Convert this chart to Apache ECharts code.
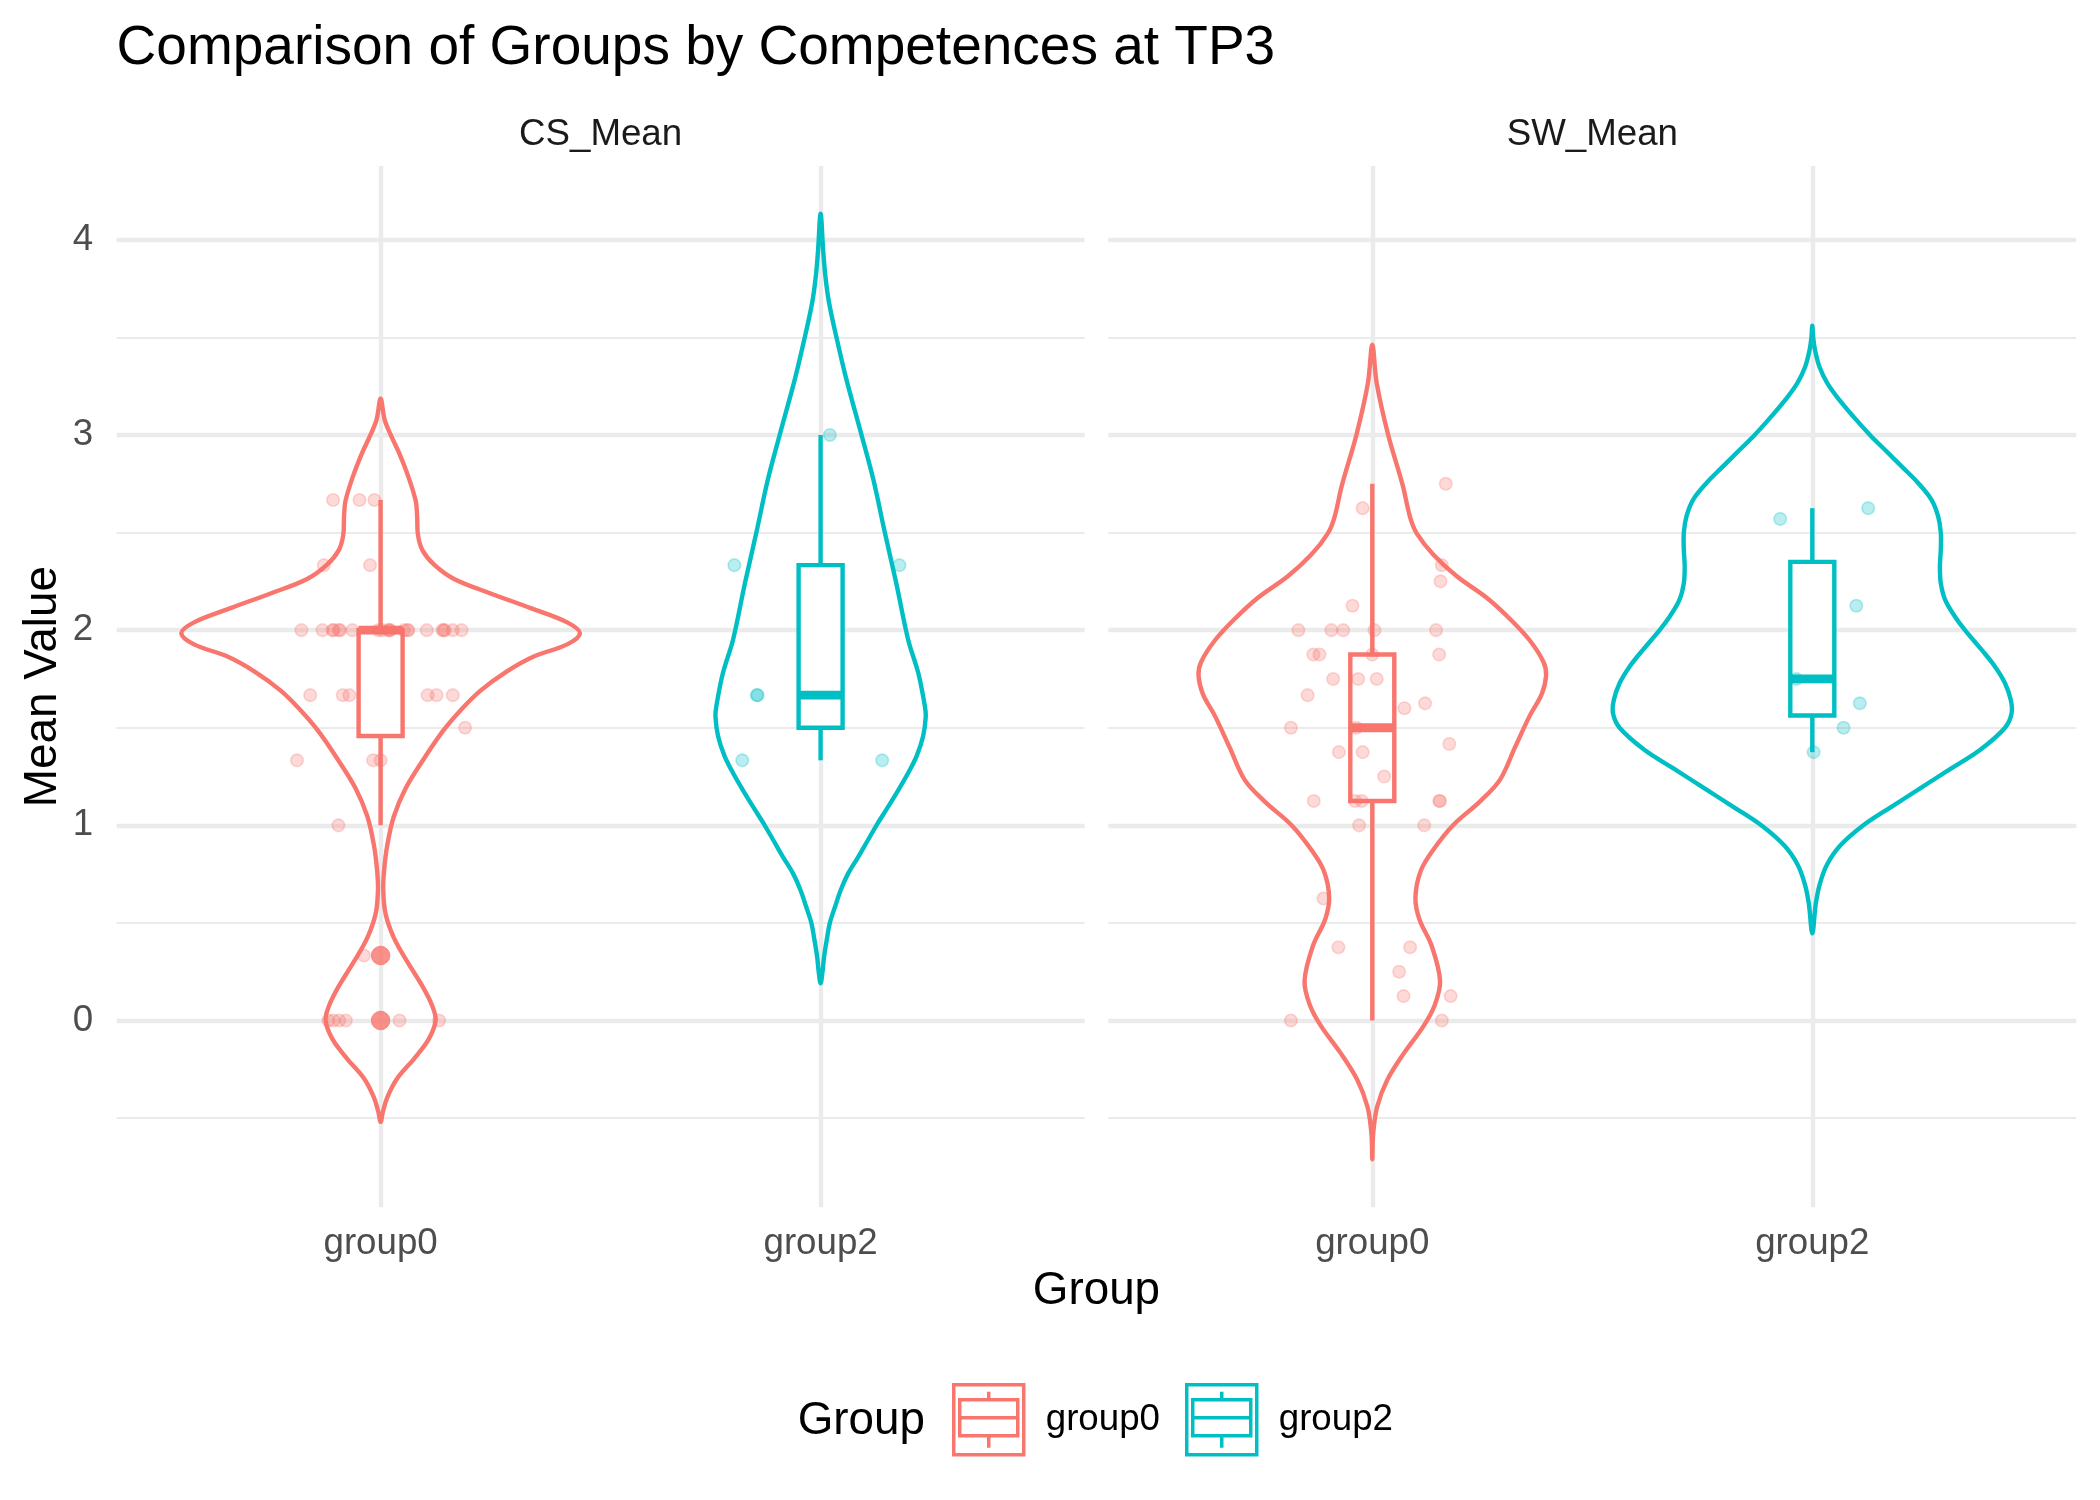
<!DOCTYPE html>
<html>
<head>
<meta charset="utf-8">
<script src="https://cdn.jsdelivr.net/npm/echarts@6/dist/echarts.min.js"></script>
<style>html,body{margin:0;padding:0;background:#fff}#c{width:2100px;height:1500px}</style>
</head>
<body>
<div id="c"></div>
<script>
const FONT = "'Liberation Sans', Arial, Helvetica, sans-serif";
const titleText = 'Comparison of Groups by Competences at TP3';
const panelNames = ['CS_Mean', 'SW_Mean'];
const groupNames = ['group0', 'group2'];
const groupColors = ['#F8766D', '#00BFC4'];
const pointColors = ['rgba(248,118,109,0.34)', 'rgba(0,191,196,0.34)'];
const yMajor = [0, 1, 2, 3, 4];
const yMinor = [-0.5, 0.5, 1.5, 2.5, 3.5];
const xPositions = [1, 2];

// ---- violin outlines (value levels, half-widths in group units) ----
const csG0ViolinY = [3.186,3.08,3.0,2.908,2.78,2.66,2.585,2.486,2.41,2.337,2.262,2.188,2.113,2.04,1.984,1.927,1.865,1.79,1.69,1.59,1.49,1.34,1.19,1.045,0.896,0.77,0.67,0.55,0.425,0.30,0.176,0.077,0.0,-0.097,-0.196,-0.296,-0.395,-0.47,-0.519];
const csG0ViolinW = [0,0.009,0.023,0.042,0.064,0.080,0.083,0.085,0.095,0.121,0.167,0.250,0.341,0.424,0.453,0.424,0.348,0.288,0.227,0.182,0.144,0.098,0.057,0.030,0.015,0.008,0.006,0.011,0.030,0.061,0.095,0.117,0.125,0.109,0.076,0.038,0.015,0.005,0];
const csG2ViolinY = [4.133,3.94,3.81,3.68,3.5,3.29,3.0,2.77,2.5,2.24,1.951,1.78,1.61,1.558,1.456,1.353,1.268,1.182,1.097,1.0,0.926,0.84,0.755,0.67,0.584,0.5,0.413,0.328,0.243,0.191];
const csG2ViolinW = [0,0.006,0.011,0.019,0.036,0.058,0.093,0.12,0.146,0.172,0.199,0.222,0.237,0.239,0.233,0.218,0.199,0.177,0.154,0.127,0.108,0.086,0.063,0.046,0.033,0.021,0.014,0.008,0.004,0];
const swG0ViolinY = [3.462,3.265,3.001,2.743,2.578,2.496,2.386,2.276,2.166,2.057,1.947,1.837,1.768,1.672,1.562,1.398,1.233,1.123,1.002,0.876,0.766,0.629,0.519,0.382,0.203,0.080,-0.030,-0.167,-0.305,-0.442,-0.579,-0.711];
const swG0ViolinW = [0,0.010,0.036,0.069,0.086,0.101,0.139,0.192,0.260,0.313,0.358,0.389,0.395,0.385,0.358,0.324,0.290,0.245,0.184,0.139,0.110,0.098,0.107,0.135,0.154,0.142,0.116,0.072,0.034,0.011,0.002,0];
const swG2ViolinY = [3.56,3.5,3.437,3.351,3.266,3.181,3.095,3.0,2.924,2.839,2.753,2.668,2.583,2.5,2.412,2.326,2.241,2.155,2.07,2.0,1.899,1.814,1.728,1.643,1.574,1.5,1.386,1.288,1.189,1.091,1.0,0.895,0.797,0.699,0.60,0.447];
const swG2ViolinW = [0,0.002,0.006,0.016,0.034,0.061,0.093,0.131,0.165,0.203,0.241,0.271,0.286,0.292,0.292,0.29,0.292,0.302,0.324,0.347,0.385,0.415,0.438,0.451,0.453,0.438,0.381,0.313,0.245,0.177,0.116,0.063,0.033,0.017,0.008,0];

// ---- boxplot stats [lower whisker, Q1, median, Q3, upper whisker] ----
const csG0Box = [1.0, 1.458, 2.0, 2.0, 2.667];
const csG2Box = [1.333, 1.5, 1.667, 2.333, 3.0];
const swG0Box = [0, 1.125, 1.5, 1.875, 2.75];
const swG2Box = [1.375, 1.5625, 1.75, 2.35, 2.625];
const csG0Outliers = [0.333, 0];

// ---- jittered observations (values and horizontal jitter in group units) ----
const csG0Values = [2.667,2.667,2.667,2.333,2.333,
  2.0,2.0,2.0,2.0,2.0,2.0,2.0,2.0,2.0,2.0,2.0,2.0,2.0,2.0,2.0,2.0,2.0,2.0,2.0,2.0,2.0,
  1.667,1.667,1.667,1.667,1.667,1.667,1.5,1.333,1.333,1.333,1.0,0.333,0,0,0,0,0,0];
const csG0Jitter = [-0.108,-0.048,-0.014,-0.129,-0.024,
  -0.18,-0.132,-0.109,-0.107,-0.095,-0.092,-0.064,-0.005,0.003,0.018,0.02,0.022,0.053,0.061,0.063,0.105,0.141,0.143,0.146,0.164,0.184,
  -0.16,-0.086,-0.071,0.107,0.127,0.164,0.192,-0.19,-0.017,0.0,-0.096,-0.038,-0.119,-0.107,-0.094,-0.079,0.043,0.133];
const csG2Values = [3.0,2.333,2.333,1.667,1.667,1.333,1.333];
const csG2Jitter = [0.021,-0.196,0.179,-0.145,-0.143,-0.178,0.14];
const swG0Values = [2.75,2.625,2.333,2.25,2.125,2.0,2.0,2.0,2.0,2.0,1.875,1.875,1.875,1.875,1.75,1.75,1.75,1.667,1.6,1.625,1.5,1.5,1.417,1.375,1.375,1.25,1.125,1.125,1.125,1.125,1.125,1.0,1.0,0.625,0.375,0.375,0.25,0.125,0.125,0,0];
const swG0Jitter = [0.167,-0.022,0.158,0.155,-0.045,-0.168,-0.093,-0.066,0.005,0.145,-0.134,-0.12,0.0,0.152,-0.089,-0.032,0.01,-0.147,0.073,0.12,-0.185,-0.036,0.175,-0.076,-0.022,0.027,-0.133,-0.039,-0.024,0.152,0.154,-0.03,0.118,-0.111,-0.077,0.086,0.061,0.071,0.178,-0.185,0.158];
const swG2Values = [2.57,2.625,2.125,1.75,1.625,1.5,1.375];
const swG2Jitter = [-0.073,0.127,0.1,-0.036,0.108,0.071,0.003];

// ---------------- layout / style ----------------
const GRID_TOP = 166, GRID_H = 1041.3, GRID_W = 968;
const gridLefts = [116.6, 1108.3];
const Y_MIN = -0.957, Y_MAX = 4.378;
const MAJOR_W = 4.4, MINOR_W = 2.2, GRID_COLOR = '#EBEBEB';
const LINE_W = 4.4;
const KEY_PATH = 'path://M0,0L70,0L70,70L0,70Z M6,15L64,15L64,51L6,51Z M6,33L64,33 M35,7L35,15 M35,51L35,63';

function gridSeries(p) {
  const data = [];
  yMajor.forEach(v => data.push({ yAxis: v, lineStyle: { width: MAJOR_W } }));
  yMinor.forEach(v => data.push({ yAxis: v, lineStyle: { width: MINOR_W } }));
  xPositions.forEach(v => data.push({ xAxis: v, lineStyle: { width: MAJOR_W } }));
  return {
    type: 'scatter', xAxisIndex: p, yAxisIndex: p, data: [], silent: true, z: 1,
    markLine: {
      silent: true, symbol: ['none', 'none'], label: { show: false }, z: 1,
      lineStyle: { color: GRID_COLOR, type: 'solid', width: MAJOR_W, opacity: 1 },
      emphasis: { disabled: true },
      data: data
    }
  };
}

function violinSeries(p, gi, ys, ws) {
  const g = xPositions[gi];
  return {
    type: 'custom', name: groupNames[gi], xAxisIndex: p, yAxisIndex: p, z: 2, silent: true, clip: false,
    data: [[g, ys[0]]],
    renderItem: function (params, api) {
      const pts = [];
      for (let i = 0; i < ys.length; i++) pts.push(api.coord([g + ws[i], ys[i]]));
      for (let i = ys.length - 2; i > 0; i--) pts.push(api.coord([g - ws[i], ys[i]]));
      return { type: 'polygon', shape: { points: pts, smooth: 0.35 },
        style: { fill: 'none', stroke: groupColors[gi], lineWidth: LINE_W, lineJoin: 'round' } };
    }
  };
}

function boxSeries(p, gi, st) {
  const g = xPositions[gi];
  const hw = 0.05;
  return {
    type: 'custom', name: groupNames[gi], xAxisIndex: p, yAxisIndex: p, z: 3, silent: true, clip: false,
    data: [[g, st[2]]],
    renderItem: function (params, api) {
      const c = groupColors[gi];
      const lo = api.coord([g, st[0]]), q1 = api.coord([g, st[1]]), md = api.coord([g, st[2]]);
      const q3 = api.coord([g, st[3]]), hi = api.coord([g, st[4]]);
      const xl = api.coord([g - hw, st[3]])[0], xr = api.coord([g + hw, st[3]])[0];
      return { type: 'group', children: [
        { type: 'line', shape: { x1: hi[0], y1: hi[1], x2: q3[0], y2: q3[1] }, style: { stroke: c, lineWidth: LINE_W } },
        { type: 'line', shape: { x1: lo[0], y1: lo[1], x2: q1[0], y2: q1[1] }, style: { stroke: c, lineWidth: LINE_W } },
        { type: 'rect', shape: { x: xl, y: q3[1], width: xr - xl, height: q1[1] - q3[1] }, style: { fill: '#ffffff', stroke: c, lineWidth: LINE_W } },
        { type: 'line', shape: { x1: xl, y1: md[1], x2: xr, y2: md[1] }, style: { stroke: c, lineWidth: LINE_W * 2 } }
      ] };
    }
  };
}

function pointSeries(p, gi, vals, jit) {
  return {
    type: 'scatter', name: groupNames[gi], xAxisIndex: p, yAxisIndex: p, z: 4, silent: true,
    symbol: 'circle', symbolSize: 12.5,
    itemStyle: { color: pointColors[gi], borderColor: pointColors[gi], borderWidth: 1.6 },
    data: vals.map((v, i) => [xPositions[gi] + jit[i], v])
  };
}

function outlierSeries(p, gi, vals) {
  return {
    type: 'scatter', name: groupNames[gi], xAxisIndex: p, yAxisIndex: p, z: 3, silent: true,
    symbol: 'circle', symbolSize: 18.5,
    itemStyle: { color: groupColors[gi], borderColor: groupColors[gi], borderWidth: 1 },
    data: vals.map(v => [xPositions[gi], v])
  };
}

const chart = echarts.init(document.getElementById('c'), null, { renderer: 'canvas', width: 2100, height: 1500 });

const grids = gridLefts.map(l => ({ left: l, top: GRID_TOP, width: GRID_W, height: GRID_H, containLabel: false, outerBoundsMode: 'none', show: false }));

const xAxes = [0, 1].map(p => ({
  type: 'value', gridIndex: p, min: 0.4, max: 2.6, interval: 0.2,
  axisLine: { show: false }, axisTick: { show: false }, splitLine: { show: false },
  axisLabel: {
    interval: 0, margin: 18, fontFamily: FONT, fontSize: 36.7, color: '#4D4D4D',
    formatter: function (v) {
      for (let i = 0; i < xPositions.length; i++) if (Math.abs(v - xPositions[i]) < 1e-6) return groupNames[i];
      return '';
    }
  }
}));

const yAxes = [0, 1].map(p => ({
  type: 'value', gridIndex: p, min: Y_MIN, max: Y_MAX,
  axisLine: { show: false }, axisTick: { show: false }, splitLine: { show: false },
  axisLabel: {
    show: p === 0, margin: 23.5, fontFamily: FONT, fontSize: 36.7, color: '#4D4D4D',
    customValues: yMajor,
    formatter: function (v) {
      const r = Math.round(v);
      return (Math.abs(v - r) < 1e-6 && yMajor.indexOf(r) >= 0) ? String(r) : '';
    }
  }
}));

const series = [
  gridSeries(0), gridSeries(1),
  violinSeries(0, 0, csG0ViolinY, csG0ViolinW),
  violinSeries(0, 1, csG2ViolinY, csG2ViolinW),
  violinSeries(1, 0, swG0ViolinY, swG0ViolinW),
  violinSeries(1, 1, swG2ViolinY, swG2ViolinW),
  boxSeries(0, 0, csG0Box), boxSeries(0, 1, csG2Box),
  boxSeries(1, 0, swG0Box), boxSeries(1, 1, swG2Box),
  outlierSeries(0, 0, csG0Outliers),
  pointSeries(0, 0, csG0Values, csG0Jitter),
  pointSeries(0, 1, csG2Values, csG2Jitter),
  pointSeries(1, 0, swG0Values, swG0Jitter),
  pointSeries(1, 1, swG2Values, swG2Jitter)
];

const panelCenters = gridLefts.map(l => l + GRID_W / 2);

chart.setOption({
  animation: false,
  backgroundColor: '#ffffff',
  grid: grids,
  xAxis: xAxes,
  yAxis: yAxes,
  legend: {
    left: 952, top: 1383, orient: 'horizontal', padding: 0,
    itemWidth: 70, itemHeight: 70, itemGap: 25, selectedMode: false,
    textStyle: { fontFamily: FONT, fontSize: 36.7, color: '#000000', padding: [0, 0, 0, 17] },
    data: groupNames.map((n, i) => ({
      name: n, icon: KEY_PATH,
      itemStyle: { color: 'rgba(0,0,0,0)', borderColor: groupColors[i], borderWidth: 3.5 }
    }))
  },
  graphic: [
    { type: 'text', x: 116.6, y: 48.5, silent: true,
      style: { text: titleText, fontFamily: FONT, fontSize: 55, fill: '#000000', align: 'left', verticalAlign: 'middle' } },
    { type: 'text', x: panelCenters[0], y: 135, silent: true,
      style: { text: panelNames[0], fontFamily: FONT, fontSize: 36.7, fill: '#1A1A1A', align: 'center', verticalAlign: 'middle' } },
    { type: 'text', x: panelCenters[1], y: 135, silent: true,
      style: { text: panelNames[1], fontFamily: FONT, fontSize: 36.7, fill: '#1A1A1A', align: 'center', verticalAlign: 'middle' } },
    { type: 'text', x: (gridLefts[0] + gridLefts[1] + GRID_W) / 2, y: 1291, silent: true,
      style: { text: 'Group', fontFamily: FONT, fontSize: 45.8, fill: '#000000', align: 'center', verticalAlign: 'middle' } },
    { type: 'text', x: 43, y: GRID_TOP + GRID_H / 2, rotation: Math.PI / 2, silent: true,
      style: { text: 'Mean Value', fontFamily: FONT, fontSize: 45.8, fill: '#000000', align: 'center', verticalAlign: 'middle' } },
    { type: 'text', x: 925, y: 1421, silent: true,
      style: { text: 'Group', fontFamily: FONT, fontSize: 45.8, fill: '#000000', align: 'right', verticalAlign: 'middle' } }
  ],
  series: series
});
</script>
</body>
</html>
